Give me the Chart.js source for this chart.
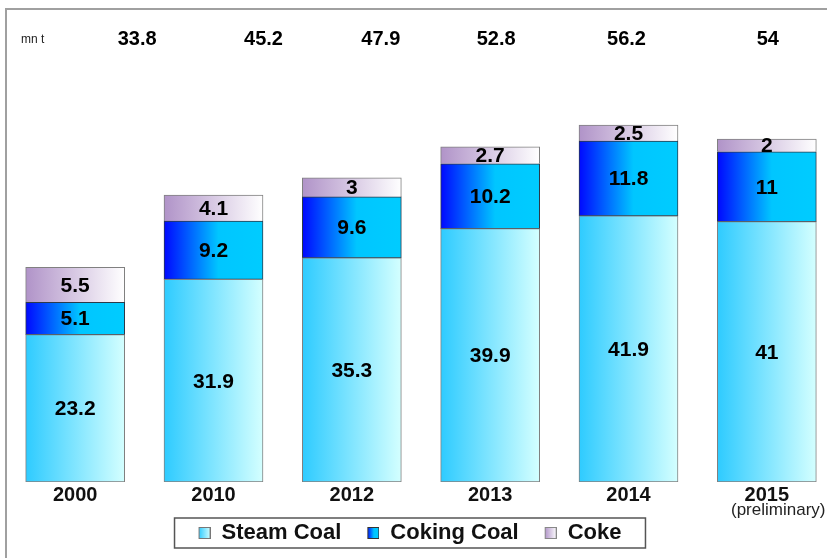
<!DOCTYPE html>
<html>
<head>
<meta charset="utf-8">
<script src="https://cdn.jsdelivr.net/npm/chart.js@4.4.0/dist/chart.umd.min.js"></script>
<style>
  body { margin: 0; background: #fff; overflow: hidden; }
  #wrap { width: 836px; height: 558px; }
</style>
</head>
<body>
<div id="wrap"><canvas id="myChart" width="836" height="558"></canvas></div>
<script>
const anos = ["2000", "2010", "2012", "2013", "2014", "2015"];
const steamCoal = [23.2, 31.9, 35.3, 39.9, 41.9, 41];
const cokingCoal = [5.1, 9.2, 9.6, 10.2, 11.8, 11];
const coke = [5.5, 4.1, 3, 2.7, 2.5, 2];
const totales = [33.8, 45.2, 47.9, 52.8, 56.2, 54];
const unidad = "mn t";
const nota = "(preliminary)";

const BAR_W = 99;
const ICONO_W = 24;
const FUENTE = "'Liberation Sans', Arial, sans-serif";
// en el original los totales no quedan centrados sobre las barras
const corrimientoTotales = [62, 50, 29, 6, -2, 1];

// gradientes horizontales para cada barra
const paradas = {
  steam: [[0, "#2ecbff"], [1, "#d4ffff"]],
  coking: [[0, "#0008ff"], [0.55, "#00c6ff"], [1, "#00ccff"]],
  coke: [[0, "#b093c8"], [1, "#ffffff"]],
};

function gradiente(tipo, fallback) {
  return (context) => {
    const chart = context.chart;
    const escala = chart.scales && chart.scales.x;
    if (context.dataIndex === undefined || !escala) return fallback;
    const cx = escala.getPixelForValue(context.dataIndex);
    const g = chart.ctx.createLinearGradient(cx - BAR_W / 2, 0, cx + BAR_W / 2, 0);
    paradas[tipo].forEach((p) => g.addColorStop(p[0], p[1]));
    return g;
  };
}

// icono de leyenda: cuadrito de 12 pegado a la derecha
function cajita(tipo, borde) {
  const c = document.createElement("canvas");
  const x0 = ICONO_W - 12;
  c.width = ICONO_W;
  c.height = 12;
  const g2 = c.getContext("2d");
  const g = g2.createLinearGradient(x0, 0, ICONO_W, 0);
  paradas[tipo].forEach((p) => g.addColorStop(p[0], p[1]));
  g2.fillStyle = g;
  g2.fillRect(x0, 0, 12, 12);
  g2.strokeStyle = borde;
  g2.lineWidth = 1;
  g2.strokeRect(x0 + 0.5, 0.5, 11, 11);
  return c;
}

const iconos = [cajita("steam", "#777"), cajita("coking", "#333"), cajita("coke", "#888")];

const etiquetas = {
  id: "etiquetas",
  afterUpdate(chart) {
    // la leyenda del original esta un poco corrida a la izquierda
    chart.legend.left -= 34;
    chart.legend.adjustHitBoxes();
  },
  beforeDraw(chart) {
    const c = chart.ctx;
    c.save();
    c.strokeStyle = "#a0a0a0";
    c.lineWidth = 2;
    c.beginPath();
    c.moveTo(6, 560);
    c.lineTo(6, 9);
    c.lineTo(840, 9);
    c.stroke();
    c.restore();
  },
  afterDatasetsDraw(chart) {
    const c = chart.ctx;
    c.save();
    c.fillStyle = "#000";
    c.textAlign = "center";
    c.textBaseline = "middle";
    c.font = "bold 21px " + FUENTE;
    chart.data.datasets.forEach((ds, i) => {
      chart.getDatasetMeta(i).data.forEach((bar, j) => {
        c.fillText(String(ds.data[j]), bar.x, (bar.y + bar.base) / 2 + 1);
      });
    });
    c.font = "bold 20px " + FUENTE;
    const x = chart.scales.x;
    totales.forEach((t, j) => {
      c.fillText(String(t), x.getPixelForValue(j) + corrimientoTotales[j], 39);
    });
    c.font = "12px " + FUENTE;
    c.fillStyle = "#222";
    c.textAlign = "left";
    c.fillText(unidad, 21, 40);
    c.font = "17px " + FUENTE;
    c.fillText(nota, 731, 510);
    c.restore();
  },
  afterDraw(chart) {
    const cajas = chart.legend.legendHitBoxes;
    if (!cajas || !cajas.length) return;
    const c = chart.ctx;
    const primero = cajas[0];
    const ultimo = cajas[cajas.length - 1];
    const izq = primero.left + (ICONO_W - 12) - 24;
    const der = ultimo.left + ultimo.width + 24;
    c.save();
    c.strokeStyle = "#555";
    c.lineWidth = 1.5;
    c.strokeRect(izq, 518, der - izq, 30);
    c.restore();
  },
};

const ctx = document.getElementById("myChart");

const myChart = new Chart(ctx, {
  type: "bar",
  data: {
    labels: anos,
    datasets: [
      {
        label: "Steam Coal",
        data: steamCoal,
        backgroundColor: gradiente("steam", "#7fe5ff"),
        borderColor: "#808080",
        borderWidth: 1,
        borderSkipped: false,
        barThickness: BAR_W,
      },
      {
        label: "Coking Coal",
        data: cokingCoal,
        backgroundColor: gradiente("coking", "#0060ff"),
        borderColor: "#2b3a4a",
        borderWidth: 1,
        borderSkipped: false,
        barThickness: BAR_W,
      },
      {
        label: "Coke",
        data: coke,
        backgroundColor: gradiente("coke", "#d8c8e8"),
        borderColor: "#808080",
        borderWidth: 1,
        barThickness: BAR_W,
      },
    ],
  },
  options: {
    responsive: false,
    animation: false,
    layout: { padding: { left: 6, right: 0, top: 101, bottom: 4 } },
    scales: {
      x: {
        stacked: true,
        grid: { display: false, drawTicks: false },
        border: { display: false },
        ticks: {
          padding: 1,
          color: "#111",
          font: { family: FUENTE, size: 20, weight: "bold" },
        },
      },
      y: {
        stacked: true,
        display: false,
        min: 0,
        max: 60,
      },
    },
    plugins: {
      tooltip: { enabled: false },
      legend: {
        position: "bottom",
        labels: {
          color: "#111",
          font: { family: FUENTE, size: 22, weight: "bold" },
          usePointStyle: true,
          pointStyleWidth: ICONO_W,
          boxHeight: 12,
          padding: 14,
          generateLabels: (chart) =>
            chart.data.datasets.map((ds, i) => ({
              text: ds.label,
              pointStyle: iconos[i],
              datasetIndex: i,
              fontColor: "#111",
              hidden: false,
            })),
        },
      },
    },
  },
  plugins: [etiquetas],
});
</script>
</body>
</html>
